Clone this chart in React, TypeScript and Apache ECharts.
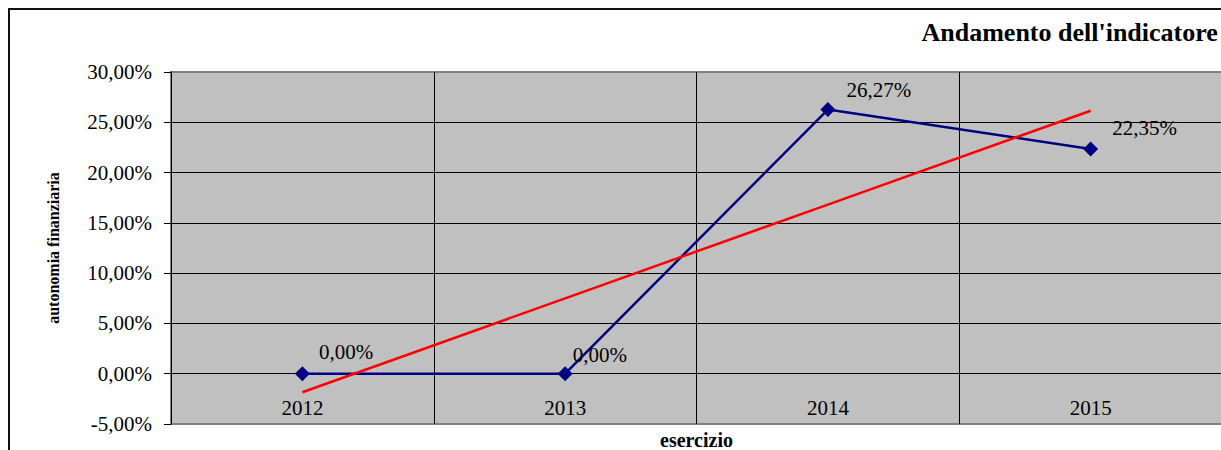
import React, { useEffect, useRef } from "react";
import * as echarts from "echarts";

const categories = ["2012", "2013", "2014", "2015"];
const autonomia = [0, 0, 26.27, 22.35];
const trend = [-1.84, 7.49, 16.82, 26.15];
const yTicks = { min: -5, max: 30, interval: 5 };
const titleText = "Andamento dell'indicatore";
const yName = "autonomia finanziaria";
const xName = "esercizio";

const FONT = "Liberation Serif";
const fmt = (v: number) => v.toFixed(2).replace(".", ",") + "%";
const labelOffsets = [
  [9, -22],
  [0, -19],
  [11, -20],
  [14, -21],
];

export default function App() {
  const ref = useRef<HTMLDivElement>(null);
  useEffect(() => {
    if (!ref.current) return;
    document.body.style.margin = "0";
    document.body.style.overflow = "hidden";
    document.documentElement.style.overflow = "hidden";
    const chart = echarts.init(ref.current, undefined, { renderer: "svg" });
    chart.setOption({
      animation: false,
      backgroundColor: "#ffffff",
      textStyle: { fontFamily: FONT },
      graphic: [
        {
          type: "rect",
          shape: { x: 9, y: 9, width: 3000, height: 3000 },
          style: { fill: "none", stroke: "#111", lineWidth: 2 },
          z: 100,
        },
        {
          type: "text",
          x: 921.5,
          y: 32,
          style: {
            text: titleText,
            fontFamily: FONT,
            fontWeight: "bold",
            fontSize: 26,
            fill: "#000",
            verticalAlign: "middle",
            align: "left",
          },
        },
      ],
      grid: {
        left: 171,
        top: 72,
        width: 1051,
        height: 352,
        show: true,
        backgroundColor: "#c0c0c0",
        borderColor: "#808080",
        borderWidth: 2,
        containLabel: false,
        outerBoundsMode: "none",
      },
      xAxis: {
        type: "category",
        data: categories,
        boundaryGap: true,
        axisLine: { show: false, onZero: false },
        axisTick: { show: false },
        axisLabel: {
          inside: true,
          margin: 6,
          fontSize: 21,
          fontFamily: FONT,
          color: "#000",
        },
        splitLine: { show: true, lineStyle: { color: "#000", width: 1 } },
        name: xName,
        nameLocation: "middle",
        nameGap: -9,
        nameTextStyle: {
          fontFamily: FONT,
          fontWeight: "bold",
          fontSize: 20,
          lineHeight: 20,
          color: "#000",
          verticalAlign: "top",
        },
      },
      yAxis: {
        type: "value",
        min: yTicks.min,
        max: yTicks.max,
        interval: yTicks.interval,
        axisLine: { show: true, lineStyle: { color: "#000", width: 1 } },
        axisTick: { show: true, length: 7, lineStyle: { color: "#000", width: 1 } },
        axisLabel: {
          margin: 19,
          fontSize: 21,
          fontFamily: FONT,
          color: "#000",
          formatter: (v: number) => fmt(v),
        },
        splitLine: {
          show: true,
          showMinLine: false,
          showMaxLine: false,
          lineStyle: { color: "#000", width: 1 },
        },
        name: yName,
        nameLocation: "middle",
        nameGap: 110,
        nameRotate: 90,
        nameTextStyle: {
          fontFamily: FONT,
          fontWeight: "bold",
          fontSize: 16,
          color: "#000",
        },
      },
      series: [
        {
          type: "line",
          data: autonomia.map((v, i) => ({
            value: v,
            label: { offset: labelOffsets[i] },
          })),
          symbol: "diamond",
          symbolSize: 15,
          itemStyle: { color: "#000080" },
          lineStyle: { color: "#000080", width: 2.5 },
          label: {
            show: true,
            position: "right",
            distance: 0,
            fontSize: 21,
            fontFamily: FONT,
            color: "#000",
            formatter: (p: any) => fmt(p.value),
          },
          z: 3,
        },
        {
          type: "line",
          data: trend,
          symbol: "none",
          showSymbol: false,
          lineStyle: { color: "#ff0000", width: 2.5 },
          itemStyle: { color: "#ff0000" },
          z: 4,
        },
      ],
    });
    return () => chart.dispose();
  }, []);
  return <div ref={ref} style={{ width: 1221, height: 450 }} />;
}
